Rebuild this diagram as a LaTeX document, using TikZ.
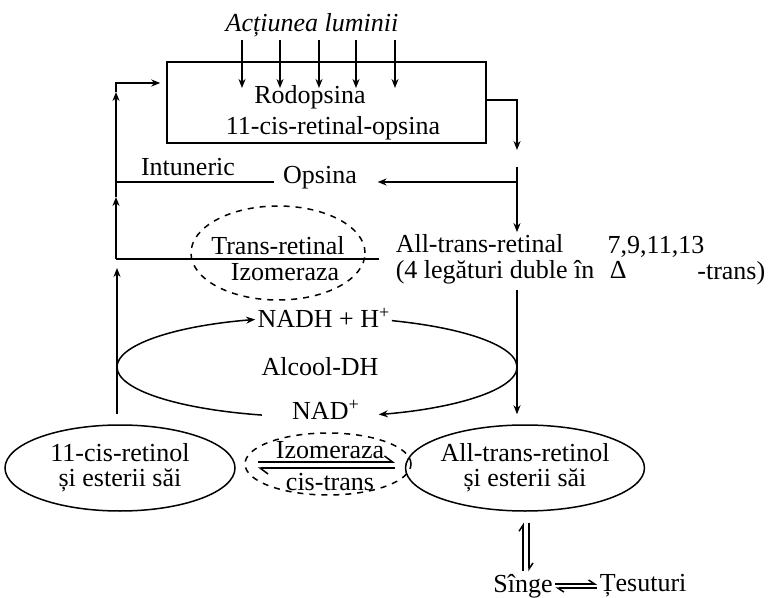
\documentclass[tikz,border=0pt]{standalone}
\usepackage{fontspec}
\setmainfont{Liberation Serif}
\usetikzlibrary{arrows.meta,shapes.geometric}
\tikzset{
  txt/.style={inner sep=1pt, font=\fontsize{13}{15}\selectfont},
  arr/.style={-{Stealth[length=4.5pt,width=3.5pt]}},
  harp/.style={-{Straight Barb[left,length=4pt,width=6pt]}},
  harpsm/.style={-{Straight Barb[left,length=3pt,width=4pt]}},
  rodbox/.style={draw, minimum width=159.5pt, minimum height=40.5pt, inner sep=0pt},
  ovalbox/.style={draw, ellipse, inner sep=0pt, align=center, font=\fontsize{13}{12.5}\selectfont},
  dashoval/.style={draw, dashed, ellipse, inner sep=0pt}
}
\begin{document}
\begin{tikzpicture}[x=0.5pt, y=-0.5pt, line width=0.75pt, every node/.style={txt}]
\useasboundingbox (0,0) rectangle (770,598);

\node[font=\fontsize{13}{15}\selectfont\itshape] (act) at (312,25) {Acțiunea luminii};
\node[rodbox] (rod) at (326.5,102.5) {};
\node (rodo) at (310,97) {Rodopsina};
\node (cis_op) at (333,128) {11-cis-retinal-opsina};
\node (intun) at (188,167) {Intuneric};
\node (ops) at (320,178) {Opsina};
\node[anchor=west] (all_ral) at (393,244) {All-trans-retinal};
\node[anchor=west] (legat) at (393,272) {(4 legături duble în\hspace{0.6em}Δ};
\node (pozit) at (656,247) {7,9,11,13};
\node[anchor=east] (trans) at (768,273) {-trans)};
\node[dashoval, minimum width=87pt, minimum height=47pt] (iso_tr) at (278,253) {};
\node[inner sep=0pt] (tr_ral) at (278,246) {Trans-retinal};
\node[inner sep=0pt] (izo_1) at (285,272) {Izomeraza};

\coordinate (alc) at (317,367);
\node (alc_dh) at (320,367) {Alcool-DH};
\node (nadh) at (324,318) {NADH + H\textsuperscript{+}};
\node (nad) at (326,410) {NAD\textsuperscript{+}};

\node[ovalbox, minimum width=115pt, minimum height=43pt] (cis_rol) at (120,468) {11-cis-retinol\\și esterii săi};
\node[ovalbox, minimum width=112pt, minimum height=43pt] (all_rol) at (525,468) {All-trans-retinol\\și esterii săi};
\node[dashoval, minimum width=83pt, minimum height=31pt] (iso_ct) at (328,464) {};
\node (izo_2) at (330,450) {Izomeraza};
\node (cis_tr) at (330,482) {cis-trans};
\node (singe) at (523,586) {Sînge};
\node[anchor=west] (tesut) at (597,586) {Țesuturi};

\foreach \x [count=\i] in {242,280,319,356,395} {
  \coordinate (lum_\i) at (\x,88);
  \draw[arr] (act.south -| lum_\i) -- (lum_\i);
}

\coordinate (up_t) at (116,259);
\coordinate (up_1) at (116,197);
\coordinate (up_2) at (116,92);
\coordinate (up_3) at (116,83);
\draw[shorten <=7pt] (all_ral.west |- up_t) -- (up_t);
\draw[arr] (up_t) -- (up_1);
\draw[arr] (up_1) -- (up_2);
\draw[arr, shorten >=3pt] (up_2) -- (up_3) -- (up_3 -| rod.west);

\coordinate (rt_1) at (517,100);
\coordinate (rt_2) at (517,150);
\coordinate (rt_3) at (517,167);
\coordinate (rt_4) at (517,182);
\draw[arr] (rod.east |- rt_1) -- (rt_1) -- (rt_2);
\draw[arr] (rt_3) -- (rt_3 |- all_ral.north);
\draw[arr, shorten >=9pt] (rt_4) -- (rt_4 -| ops.east);
\draw[shorten >=3pt] (rt_4 -| up_t) -- (rt_4 -| ops.west);

\coordinate (lo_l) at (117,268);
\coordinate (lo_r) at (517,290);
\draw[arr, shorten <=5pt] (cis_rol.north -| lo_l) -- (lo_l);
\draw[arr, shorten >=5pt] (lo_r) -- (lo_r |- all_rol.north);

\draw[arr] ([shift={(180:200 and 50)}]alc) arc[start angle=180, end angle=252, x radius=200, y radius=50];
\draw[arr] ([shift={(292:200 and 50)}]alc) arc[start angle=292, end angle=432, x radius=200, y radius=50];
\draw ([shift={(106:200 and 50)}]alc) arc[start angle=106, end angle=180, x radius=200, y radius=50];

\draw[harp, shorten <=11pt, shorten >=5pt] ([yshift=3pt]cis_rol.east) -- ([yshift=3pt]all_rol.west);
\draw[harp, shorten <=5pt, shorten >=11pt] (all_rol.west) -- (cis_rol.east);

\draw[harpsm, shorten >=5.5pt] (singe.north) -- (singe.north |- all_rol.south);
\draw[harpsm, shorten <=5.5pt] ([xshift=3pt]singe.north |- all_rol.south) -- ([xshift=3pt]singe.north);
\draw[harpsm] ([yshift=1pt]singe.east) -- ([yshift=1pt]tesut.west);
\draw[harpsm] ([yshift=-1pt]tesut.west) -- ([yshift=-1pt]singe.east);

\end{tikzpicture}
\end{document}
